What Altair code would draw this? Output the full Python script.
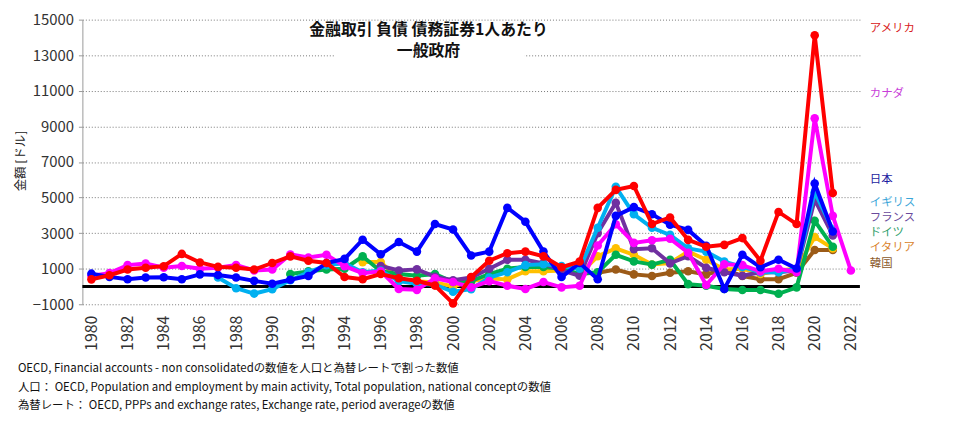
import altair as alt
import pandas as pd

FONT = "Noto Sans CJK JP"

# ---- data (per-capita general government debt securities, USD) ----
us_start = 1980
us = [400, 630, 950, 1050, 1140, 1830, 1350, 1100, 1050, 950,
      1320, 1690, 1450, 1320, 530, 410, 700, 460, 320, 50,
      -950, 530, 1450, 1870, 1960, 1690, 1080, 1400, 4420, 5430,
      5650, 3510, 3880, 2620, 2230, 2340, 2720, 1450, 4190, 3510,
      14120, 5250]

ca_start = 1980
ca = [600, 750, 1200, 1290, 1050, 1150, 1000, 1050, 1200, 900,
      950, 1800, 1630, 1780, 1140, 750, 850, -140, -190, 460,
      250, -50, 300, 40, -140, 250, -50, 40, 2300, 3500,
      2450, 2600, 2680, 1900, 80, 1250, 1200, 850, 1000, 800,
      9450, 3970, 900]

jp_start = 1980
jp = [720, 540, 410, 500, 520, 410, 680, 640, 500, 315,
      150, 380, 590, 1320, 1550, 2630, 1810, 2500, 1960, 3510,
      3200, 1740, 1960, 4420, 3640, 1960, 530, 1320, 410, 3970,
      4460, 4060, 3470, 3180, 2290, -140, 1780, 1080, 1500, 1010,
      5790, 3090]

uk_start = 1987
uk = [500, -100, -400, -150, 350, 800, 1200, 1300, 800, 900,
      300, 150, 100, -300, -150, 500, 800, 1200, 1250, 1150,
      1000, 3300, 5600, 4060, 3300, 2900, 2140, 1960, 1400, 1100,
      800, 800, 1000, 5300, 3200]

fr_start = 1996
fr = [1150, 900, 960, 550, 350, 500, 1000, 1500, 1500, 1300,
      900, 600, 3000, 4700, 2100, 2150, 1300, 1700, 1050, 800,
      600, 800, 800, 900, 4880, 2870]

de_start = 1991
de = [700, 850, 950, 1000, 1690, 860, 700, 600, 700, 250,
      300, 700, 1000, 1100, 1100, 1000, 700, 800, 1780, 1410,
      1230, 1500, 130, 40, -140, -200, -200, -410, -50, 3690,
      2230]

it_start = 1995
it = [1370, 1370, 400, 300, 220, 0, 300, 450, 400, 860,
      860, 900, 700, 1700, 2140, 1780, 1230, 1320, 1960, 1500,
      955, 1000, 700, 900, 1000, 2780, 2140]

kr_start = 2008
kr = [770, 955, 680, 590, 770, 860, 680, 955, 590, 410,
      410, 770, 2050, 2050]

# drawing order: first = bottom
series = [
    ("韓国", kr_start, kr, "#9c5b18", "#8b5a2b"),
    ("イタリア", it_start, it, "#ffc000", "#d9822b"),
    ("ドイツ", de_start, de, "#00b050", "#2e9e6a"),
    ("フランス", fr_start, fr, "#7030a0", "#6a4a9c"),
    ("イギリス", uk_start, uk, "#00b0f0", "#3aa5d8"),
    ("カナダ", ca_start, ca, "#ff00ff", "#c83ed8"),
    ("日本", jp_start, jp, "#0000ff", "#1c1ca0"),
    ("アメリカ", us_start, us, "#ff0000", "#d82020"),
]

x_ticks = list(range(1980, 2023, 2))
y_ticks = list(range(-1000, 15001, 2000))

title_lines = ["金融取引 負債 債務証券1人あたり", "一般政府"]
notes = [
    "OECD, Financial accounts - non consolidatedの数値を人口と為替レートで割った数値",
    "人口： OECD, Population and employment by main activity, Total population, national conceptの数値",
    "為替レート： OECD, PPPs and exchange rates, Exchange rate, period averageの数値",
]

W, H = 784, 287

xenc = alt.X("year:Q",
             scale=alt.Scale(domain=[1979.5, 2022.5], nice=False, zero=False),
             axis=alt.Axis(values=x_ticks, format="d", labelAngle=-90, grid=False,
                           domain=False, ticks=False, labelFontSize=16, labelPadding=11,
                           labelColor="#333333", labelFont=FONT, title=None))
yenc = alt.Y("value:Q",
             scale=alt.Scale(domain=[-1000, 15000], nice=False, zero=False),
             axis=alt.Axis(values=y_ticks, format="d", grid=True, gridDash=[1, 2],
                           gridColor="#777777", gridWidth=1, domainColor="#999999",
                           tickColor="#999999", tickSize=4, labelFontSize=15,
                           labelColor="#333333", labelFont=FONT, labelPadding=5,
                           title="金額 [ドル]", titleFont=FONT, titleFontSize=12.5,
                           titleFontWeight="normal", titleColor="#222222",
                           titleAngle=-90, titleX=-62, titleY=142,
                           titleAlign="center", titleBaseline="middle"))

layers = []

# zero line (shares the y axis definition so the axis is kept)
layers.append(alt.Chart(pd.DataFrame({"value": [0]})).mark_rule(color="black", strokeWidth=3)
              .encode(y=yenc))

for name, start, vals, col, lcol in series:
    df = pd.DataFrame({"year": list(range(start, start + len(vals))), "value": vals, "country": name})
    base = alt.Chart(df).encode(x=xenc, y=yenc)
    layers.append(base.mark_line(color=col, strokeWidth=4))
    layers.append(base.mark_circle(color=col, size=75, opacity=1))

# right-side labels
label_y = {"アメリカ": 9, "カナダ": 75, "日本": 162, "イギリス": 185,
           "フランス": 200, "ドイツ": 215.5, "イタリア": 230.5, "韓国": 246}
for name, start, vals, col, lcol in series:
    layers.append(alt.Chart(pd.DataFrame({"t": [name]})).mark_text(
        align="left", baseline="middle", font=FONT, fontSize=11.5, color=lcol)
        .encode(text="t:N", x=alt.value(794), y=alt.value(label_y[name])))

# title box + text
layers.append(alt.Chart(pd.DataFrame({"a": [0]})).mark_rect(color="white")
              .encode(x=alt.value(254), x2=alt.value(446), y=alt.value(2), y2=alt.value(45)))
layers.append(alt.Chart(pd.DataFrame({"t": [title_lines[0]]})).mark_text(
    align="center", baseline="middle", font=FONT, fontSize=16, fontWeight="bold", color="#111111")
    .encode(text="t:N", x=alt.value(349), y=alt.value(10)))
layers.append(alt.Chart(pd.DataFrame({"t": [title_lines[1]]})).mark_text(
    align="center", baseline="middle", font=FONT, fontSize=16, fontWeight="bold", color="#111111")
    .encode(text="t:N", x=alt.value(349), y=alt.value(32)))

# footnotes
for i, line in enumerate(notes):
    layers.append(alt.Chart(pd.DataFrame({"t": [line]})).mark_text(
        align="left", baseline="middle", font=FONT, fontSize=11.5, color="#111111")
        .encode(text="t:N", x=alt.value(-65), y=alt.value(352 + 19 * i)))

chart = alt.layer(*layers).properties(
    width=W, height=H,
    autosize=alt.AutoSizeParams(type="none"),
    padding={"left": 75, "top": 10, "right": 110, "bottom": 118},
    background="white",
).configure_view(stroke=None)

chart.save("out.html", embed_options={"renderer": "svg", "actions": False})
